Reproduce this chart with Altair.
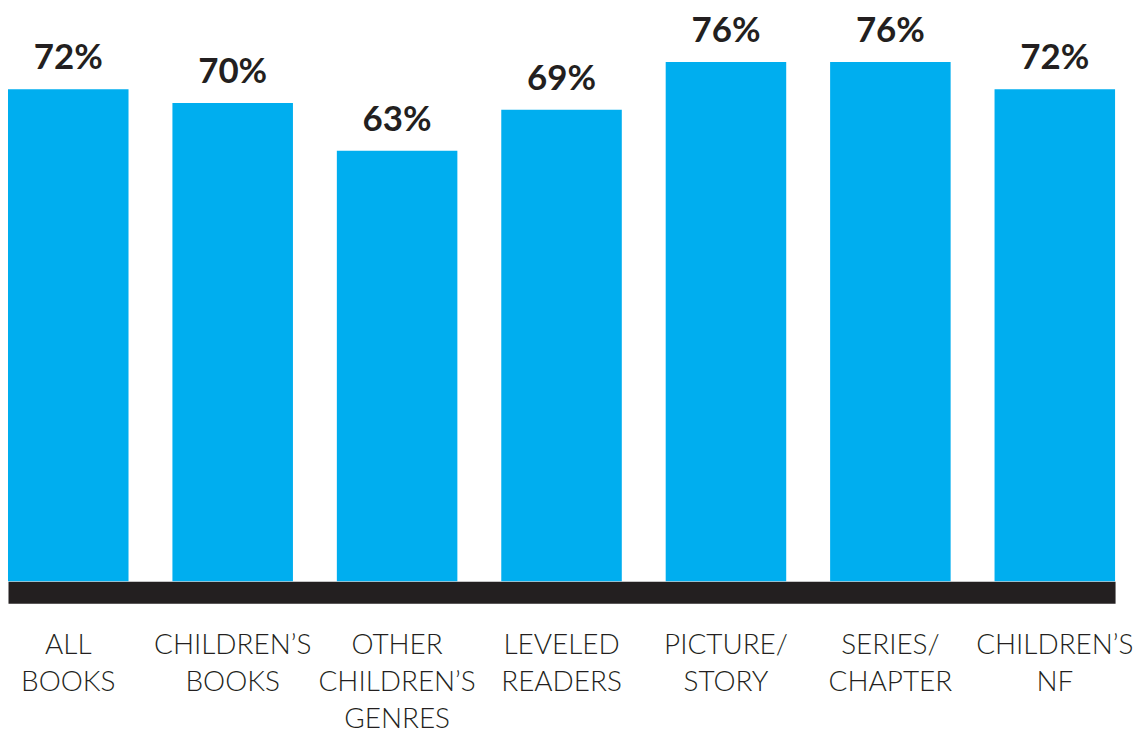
import altair as alt
import pandas as pd

categories = ["ALL|BOOKS", "CHILDREN’S|BOOKS", "OTHER|CHILDREN’S|GENRES",
              "LEVELED|READERS", "PICTURE/|STORY", "SERIES/|CHAPTER", "CHILDREN’S|NF"]
values = [72, 70, 63, 69, 76, 76, 72]
labels = ["72%", "70%", "63%", "69%", "76%", "76%", "72%"]

df = pd.DataFrame({"cat": categories, "value": values, "label": labels})

x = alt.X("cat:N", sort=categories, title=None,
          scale=alt.Scale(paddingInner=0.267, paddingOuter=0),
          axis=alt.Axis(labelExpr="split(datum.label, '|')", labelAngle=0,
                        labelFontSize=28, labelFont="Lato", labelFontWeight=300,
                        labelColor="#231F20", labelLineHeight=37, labelPadding=40,
                        labelBaseline="top",
                        ticks=False, domainColor="#231F20", domainWidth=22,
                        offset=11, labelLimit=300))
y = alt.Y("value:Q", scale=alt.Scale(domain=[0, 83.7], nice=False), axis=None)

bars = alt.Chart(df).mark_bar(color="#00AEEF").encode(x=x, y=y)
text = alt.Chart(df).mark_text(baseline="alphabetic", dy=-20, fontSize=35,
                               font="Lato", fontWeight="bold", color="#231F20").encode(
    x=alt.X("cat:N", sort=categories), y=y, text="label:N")

chart = alt.layer(bars, text).properties(width=1111, height=574, padding=0).configure_view(stroke=None)
chart.save("out.html", embed_options={"renderer": "svg", "actions": False})
